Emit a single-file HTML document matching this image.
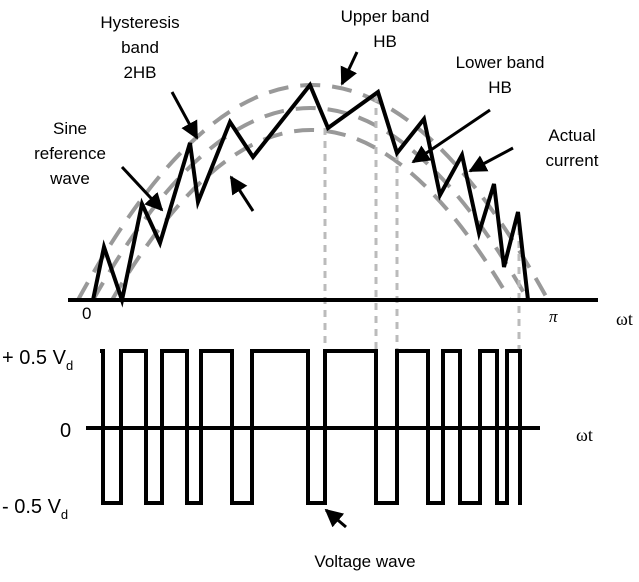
<!DOCTYPE html>
<html><head><style>
body{margin:0;background:#fff}
svg text{font-family:"Liberation Sans",Arial,sans-serif;font-size:17px;fill:#000}
</style></head><body>
<svg width="639" height="577" viewBox="0 0 639 577" xmlns="http://www.w3.org/2000/svg">
<defs><marker id="a" viewBox="0 0 10 10" refX="9" refY="5" markerWidth="6" markerHeight="6" orient="auto"><path d="M0,0L10,5L0,10z" fill="#000"/></marker></defs>
<g fill="none" stroke="#999" stroke-width="4" stroke-dasharray="20,12">
<path d="M78,300 Q312,-130 548,300"/>
<path d="M93,300 Q310,-84 528,300"/>
<path d="M112,300 Q311,-40 510,300"/>
</g>
<g stroke="#bbb" stroke-width="3" stroke-dasharray="7,6">
<line x1="325" y1="128" x2="325" y2="350"/>
<line x1="376" y1="95" x2="376" y2="350"/>
<line x1="397" y1="153" x2="397" y2="350"/>
<line x1="519" y1="215" x2="519" y2="350"/>
</g>
<line x1="68" y1="300" x2="598" y2="300" stroke="#000" stroke-width="4"/>
<polyline fill="none" stroke="#000" stroke-width="4" stroke-linejoin="miter" points="93,300 104,247 122,300 142,204 160,243 190,143 198,202 230,122 253,157 310,85 328,128 378,92 397,153 424,119 440,195 462,155 479,233 494,184 504,267 518,212 528,300"/>
<line x1="86" y1="428" x2="540" y2="428" stroke="#000" stroke-width="4"/>
<polyline fill="none" stroke="#000" stroke-width="4" points="100,351 103,351 103,503 121,503 121,351 146,351 146,503 162,503 162,351 187,351 187,503 201,503 201,351 232,351 232,503 252,503 252,351 308,351 308,503 325,503 325,351 376,351 376,503 397,503 397,351 428,351 428,503 443,503 443,351 460,351 460,503 480,503 480,351 497,351 497,503 507,503 507,351 520,351 520,505"/>
<g stroke="#000" stroke-width="3" marker-end="url(#a)">
<line x1="172" y1="92" x2="197" y2="138"/>
<line x1="122" y1="167" x2="162" y2="210"/>
<line x1="253" y1="211" x2="231" y2="177"/>
<line x1="357" y1="52" x2="342" y2="84"/>
<line x1="490" y1="110" x2="413" y2="162"/>
<line x1="513" y1="148" x2="470" y2="171"/>
<line x1="346" y1="527" x2="326" y2="510"/>
</g>
<g text-anchor="middle">
<text x="140" y="28">Hysteresis</text><text x="140" y="53">band</text><text x="140" y="78">2HB</text>
<text x="70" y="134">Sine</text><text x="70" y="159">reference</text><text x="70" y="184">wave</text>
<text x="385" y="22">Upper band</text><text x="385" y="47">HB</text>
<text x="500" y="68">Lower band</text><text x="500" y="93">HB</text>
<text x="572" y="141">Actual</text><text x="572" y="166">current</text>
<text x="365" y="567">Voltage wave</text>
</g>
<text x="82" y="319" font-size="19">0</text>
<text x="549" y="322" font-style="italic" style="font-family:'Liberation Serif',serif">π</text>
<text x="616" y="325" style="font-family:'Liberation Serif',serif;font-size:18px">ωt</text>
<text x="576" y="441" style="font-family:'Liberation Serif',serif;font-size:18px">ωt</text>
<text x="2" y="364" style="font-size:20px">+ 0.5 V<tspan font-size="13" dy="6">d</tspan></text>
<text x="60" y="437" style="font-size:20px">0</text>
<text x="2" y="513" style="font-size:20px">- 0.5 V<tspan font-size="13" dy="6">d</tspan></text>
</svg>
</body></html>
